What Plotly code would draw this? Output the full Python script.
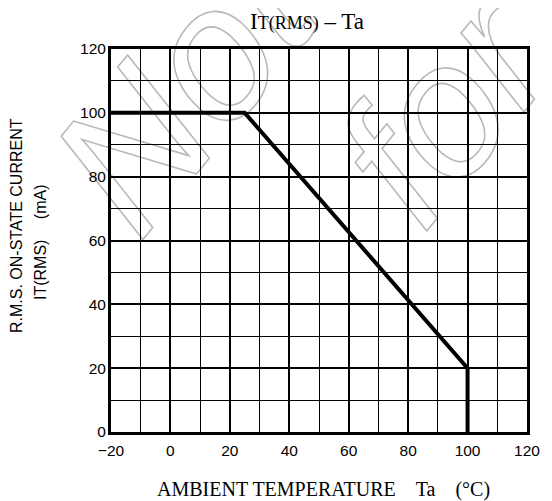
import plotly.graph_objects as go
import base64

# Data
temp_c = [-20, 25, 100, 100]
current_ma = [100, 100, 20, 0]
x_ticks = [-20, 0, 20, 40, 60, 80, 100, 120]
y_ticks = [0, 20, 40, 60, 80, 100, 120]
watermark_lines = ["Not Recommended", "for New Design"]

# The page has an 8px body margin, so the figure is 8px smaller than the window
OFF = 8
W, H = 552 - OFF, 501 - OFF
L, R, T, B = 111 - OFF, 14, 49 - OFF, 69
PW, PH = W - L - R, H - T - B

fig = go.Figure()
fig.add_trace(go.Scatter(x=temp_c, y=current_ma, mode="lines",
                         line=dict(color="black", width=4), showlegend=False,
                         hoverinfo="skip"))

axis_common = dict(
    showline=True, mirror=True, linecolor="black", linewidth=3,
    showgrid=True, gridcolor="black", gridwidth=2,
    zeroline=False, ticks="",
    tickfont=dict(family="Liberation Sans, Arial", size=15.5, color="black"),
    minor=dict(dtick=10, showgrid=True, gridcolor="black", gridwidth=1.2),
)

fig.update_xaxes(range=[-20, 120], tickvals=x_ticks,
                 ticktext=["\u221220" if v < 0 else str(v) for v in x_ticks],
                 ticklabelstandoff=2, **axis_common)
fig.update_yaxes(range=[0, 120], tickvals=y_ticks, ticklabelstandoff=-1,
                 **axis_common)

serif = "Liberation Serif, Times New Roman, serif"
sans = "Liberation Sans, Arial, sans-serif"

annotations = [
    dict(text="I<span style='font-size:18px'>T(RMS)</span> \u2013 Ta",
         xref="paper", yref="paper", x=0, y=1, xshift=307 - 111, yshift=28,
         xanchor="center", yanchor="middle", showarrow=False,
         font=dict(family=serif, size=23, color="black")),
    dict(text="AMBIENT TEMPERATURE\u2003Ta\u2003(\u00b0C)",
         xref="paper", yref="paper", x=0, y=0, xshift=323 - 111, yshift=-57,
         xanchor="center", yanchor="middle", showarrow=False,
         font=dict(family=serif, size=20, color="black")),
    dict(text="R.M.S. ON-STATE CURRENT",
         xref="paper", yref="paper", x=0, y=0, xshift=16 - 111, yshift=432 - 226,
         xanchor="center", yanchor="middle", textangle=-90, showarrow=False,
         font=dict(family=sans, size=16, color="black")),
    dict(text="IT(RMS)\u2003 (mA)",
         xref="paper", yref="paper", x=0, y=0, xshift=40 - 111, yshift=432 - 242,
         xanchor="center", yanchor="middle", textangle=-90, showarrow=False,
         font=dict(family=sans, size=16, color="black")),
]

# Outlined diagonal watermark (page pixel coordinates in the viewBox)
svg = (
    f"<svg xmlns='http://www.w3.org/2000/svg' width='{W}' height='{H}' "
    f"viewBox='{OFF} {OFF} {W} {H}'>"
    "<g font-family='Liberation Sans, Arial, sans-serif' font-size='190' "
    "font-style='italic' fill='none' stroke='#b8b8b8' stroke-width='1.6'>"
    f"<text transform='translate(140 244) rotate(-50)'>{watermark_lines[0]}</text>"
    f"<text transform='translate(431 236) rotate(-50)'>{watermark_lines[1]}</text>"
    "</g></svg>"
)
src = "data:image/svg+xml;base64," + base64.b64encode(svg.encode()).decode()

fig.update_layout(
    width=W, height=H,
    margin=dict(l=L, r=R, t=T, b=B, pad=0),
    paper_bgcolor="white", plot_bgcolor="rgba(0,0,0,0)",
    annotations=annotations,
    images=[dict(source=src, xref="paper", yref="paper",
                 x=-L / PW, y=1 + T / PH, sizex=W / PW, sizey=H / PH,
                 xanchor="left", yanchor="top", sizing="stretch",
                 layer="below")],
)

fig.write_html("out.html")
